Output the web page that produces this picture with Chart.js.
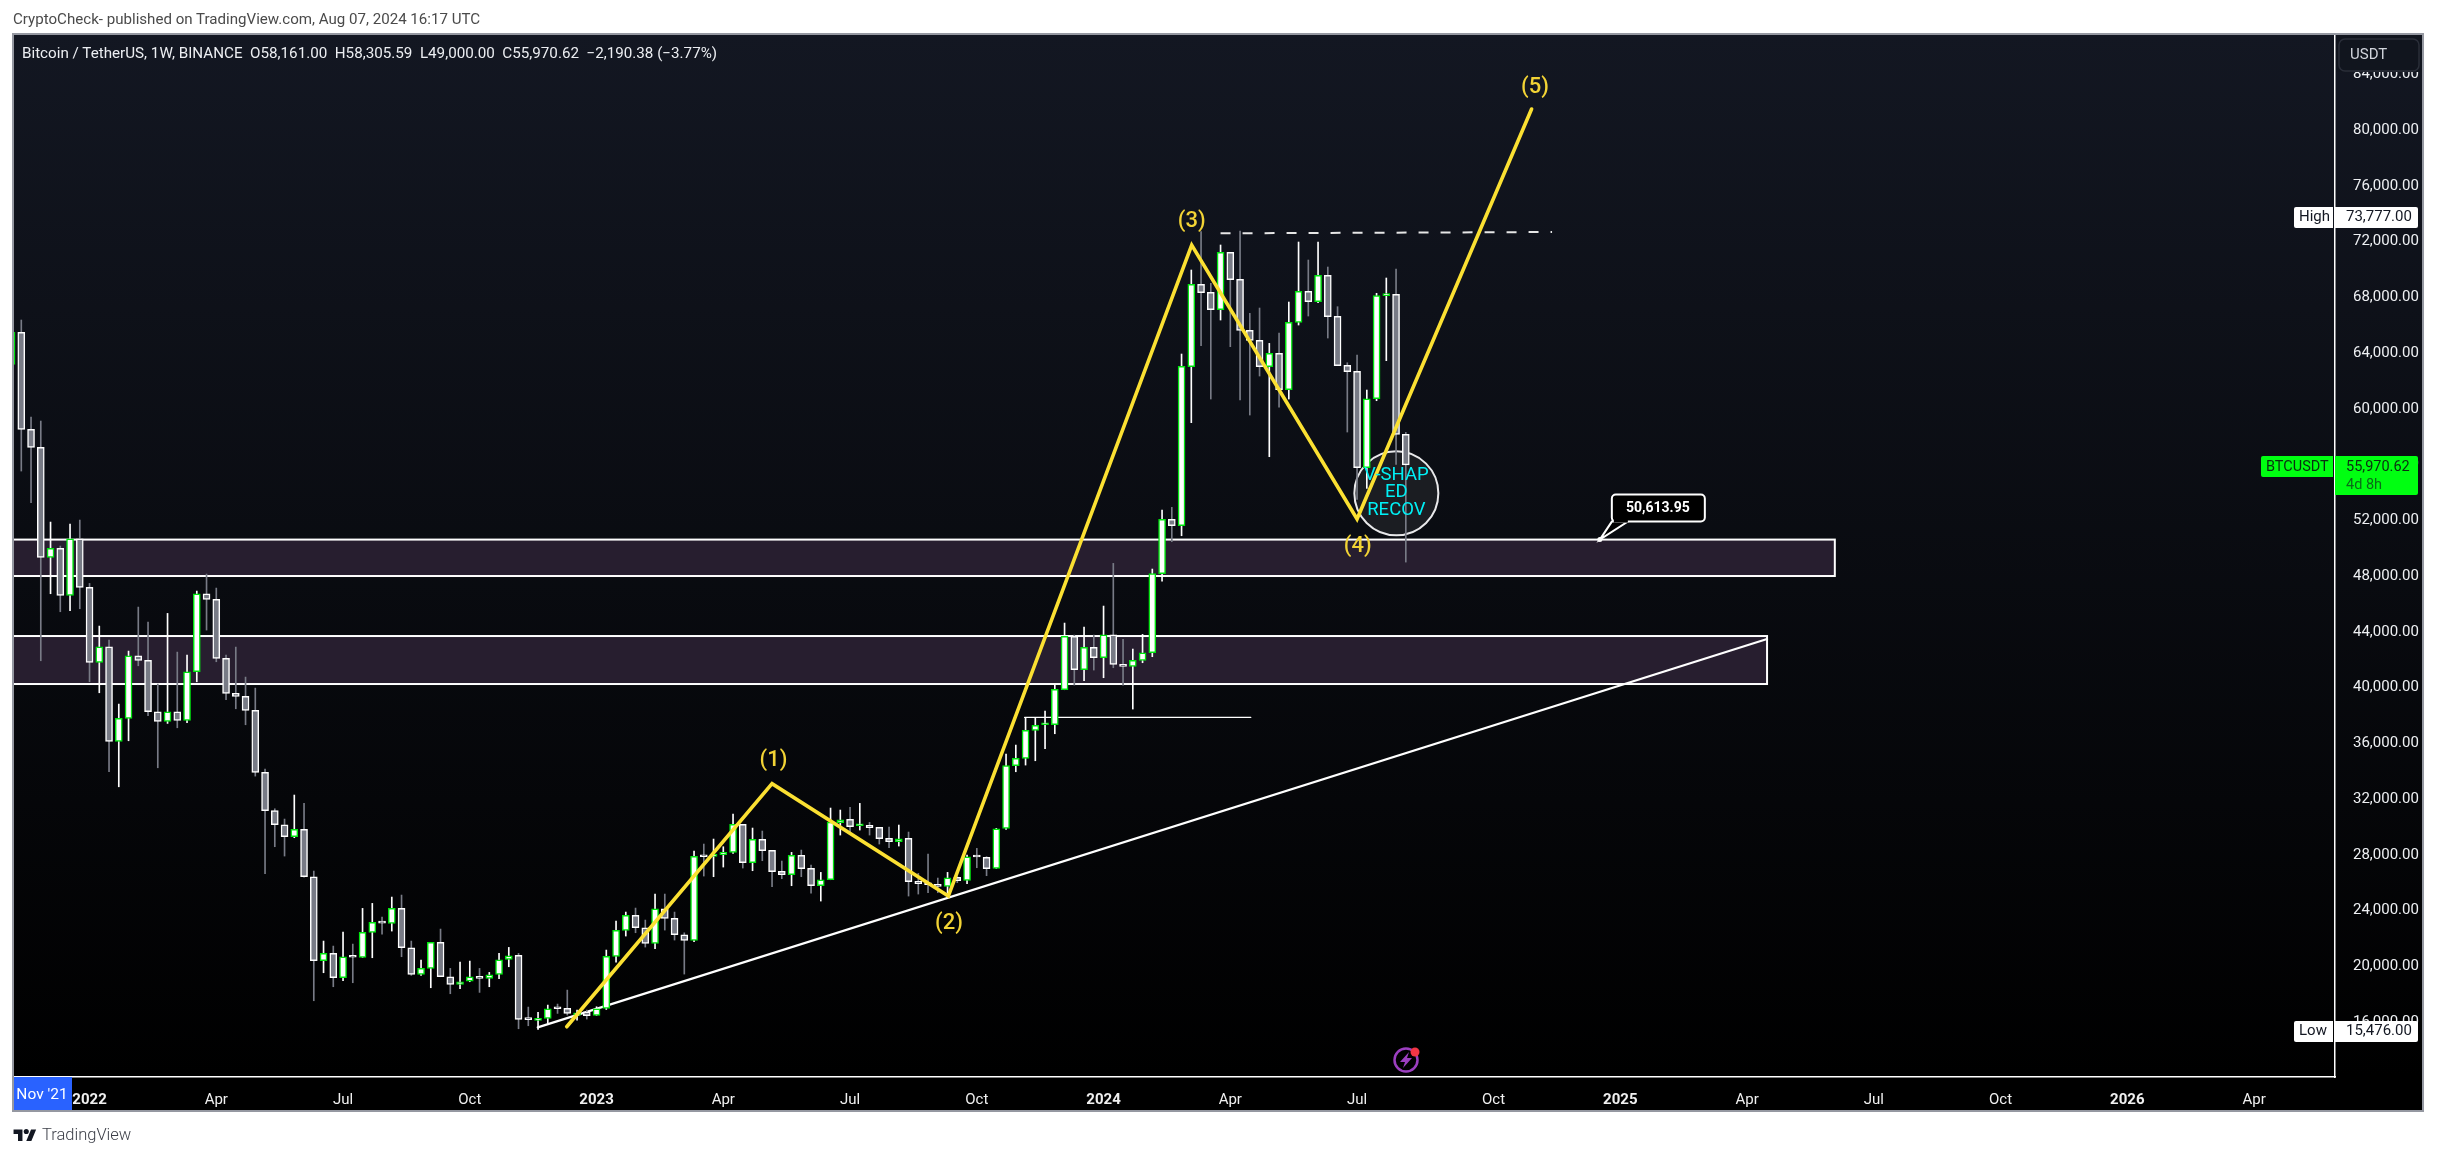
<!DOCTYPE html>
<html>
<head>
<meta charset="utf-8">
<title>BTCUSDT</title>
<script src="https://cdn.jsdelivr.net/npm/chart.js@4"></script>
<style>
  html, body { margin: 0; padding: 0; background: #fff; overflow: hidden; }
  #myChart { position: absolute; left: 0; top: 0; }
  .head { position: absolute; left: 13px; top: 10px; font: 15.1px Roboto, sans-serif; color: #4a4a4a; white-space: nowrap; }
  .legend { position: absolute; left: 22px; top: 44px; font: 15.2px Roboto, sans-serif; color: #eceef2; white-space: pre; }
  .logo { position: absolute; left: 13px; top: 1127px; width: 24px; height: 14px; }
  .brand { position: absolute; left: 42px; top: 1125px; font: 300 16.5px Roboto, sans-serif; color: #3c3f48; }
</style>
</head>
<body>
<canvas id="myChart" width="2437" height="1156"></canvas>
<div class="head">CryptoCheck- published on TradingView.com, Aug 07, 2024 16:17 UTC</div>
<div class="legend">Bitcoin / TetherUS, 1W, BINANCE  O58,161.00  H58,305.59  L49,000.00  C55,970.62  −2,190.38 (−3.77%)</div>
<svg class="logo" viewBox="0 0 36 22"><path fill="#131722" d="M14 22H7V11H0V4h14v18zM28 22h-8l7.5-18h8L28 22z"/><circle fill="#131722" cx="20" cy="7" r="4"/></svg>
<div class="brand">TradingView</div>
<script>
// weekly candles, week 0 = 8 Nov 2021
let opens = [63185,65482,58521,57229,49336,49981,46609,50675,47183,41800,42925,36132,37782,42279,41944,38261,37566,38261,37638,41131,46728,46322,42088,39576,39361,38356,33907,31162,30157,29296,29822,26425,20398,20924,19178,20685,20637,22431,23148,23077,24153,21330,19417,19847,21713,19250,18700,18938,19250,19130,19417,20493,20780,16187,16116,16260,16977,16977,16499,16738,16475,16977,20708,22574,23650,22766,21642,24129,23436,22263,21857,27885,27885,28004,28172,30181,27430,29105,28315,26808,26569,27956,27023,25780,26210,30300,30540,30085,30109,29966,29176,28937,29176,26091,25947,25875,25732,26378,26162,27861,27813,27023,29894,34388,34914,36923,37330,37330,39841,43669,41277,42879,42138,43788,41659,41516,41947,42497,48166,52065,51608,63018,68926,68352,67108,71223,69285,65625,64908,63018,63975,61367,66199,68424,67682,69572,66630,63114,62683,55770,60721,68113,68209,58161];
let highs = [69000,66367,59406,59119,51871,50149,51728,52015,47470,44408,43403,38811,42614,45772,44695,40246,45317,42542,42327,46919,48140,47135,42327,42901,40749,39958,34147,31300,30563,32286,31688,26832,21809,21450,22454,21593,24153,24512,23531,24966,25110,21809,20445,21713,22670,19848,20302,20373,19848,19560,20924,21354,20924,17073,16690,17216,17288,18292,16858,16858,17096,21163,23244,23890,24177,23316,25182,25182,23890,22400,28267,28770,29128,28578,30922,30181,29918,29703,28291,27550,28172,28339,27262,26736,31353,31210,31401,31688,30324,29966,29990,30133,29631,26665,28052,26330,26737,26426,27980,28459,27862,29894,35225,35871,37856,37856,38311,40176,44625,43764,44338,43764,45845,48907,43453,42760,43812,48500,52734,52926,63927,69955,72706,68998,71749,71223,72753,66845,67228,64692,65434,67658,71964,70672,71964,70170,67324,63300,63855,61343,68281,69381,70026,58305.59];
let lows = [62278,55531,53259,41920,46728,45437,45509,45652,40413,39624,33955,32878,36180,41561,37973,34242,37423,37113,37471,40413,44121,41849,39122,38476,37328,33643,26641,28578,27908,29224,26400,17527,19536,18532,18962,18819,20637,20613,22311,22526,20685,19350,19350,18460,19250,18030,18388,18891,18125,18532,19106,19967,15518,15733,15476,15900,16618,16498,16139,16212,16475,16900,20302,22168,22407,21378,21258,22598,21881,19441,21761,26473,26426,27119,28100,27048,26856,27574,25708,26282,25780,26426,25253,24679,26210,29415,29655,29774,29415,28770,28507,28626,25038,25182,25277,25277,25230,26000,25923,27071,26498,27023,29822,33957,34436,34746,35607,36684,39841,40176,40487,41253,40703,41420,40176,38454,41779,42210,47639,50462,50890,59000,64525,60698,66367,64453,60626,59550,62348,56560,60123,60698,66008,66654,67611,65075,63090,58330,53500,54287,60578,63449,56000,49000];
let closes = [65482,58521,57229,49336,49981,46609,50675,47183,41800,42925,36132,37782,42279,41944,38261,37566,38261,37638,41131,46728,46322,42088,39576,39361,38356,33907,31162,30157,29296,29822,26425,20398,20924,19178,20685,20650,22431,23148,23100,24153,21330,19417,19847,21713,19250,18700,18891,19250,19130,19393,20470,20756,16187,16170,16260,16953,16950,16618,16666,16451,16953,20708,22574,23650,22766,21642,24129,23436,22263,21857,27885,27860,28028,28172,30181,27430,29105,28291,26784,26569,27956,26999,25780,26210,30348,30516,30014,30109,29942,29152,28937,29152,26067,25923,25851,25732,26354,26138,27861,27840,27000,29870,34391,34914,36923,37282,37375,39865,43669,41277,42879,42138,43788,41659,41516,41947,42497,48166,52065,51610,63041,68926,68328,67108,71223,69261,65625,64908,63018,63975,61367,66199,68424,67682,69572,66606,63090,62659,55770,60721,68113,68161,58161,55970.62];

// tick labels
let priceTicks = [84000,80000,76000,72000,68000,64000,60000,56000,52000,48000,44000,40000,36000,32000,28000,24000,20000,16000];
let timeTicks = [8,21,34,47,60,73,86,99,112,125,138,152,165,178,191,204,217,230];
let timeLabels = ['2022','Apr','Jul','Oct','2023','Apr','Jul','Oct','2024','Apr','Jul','Oct','2025','Apr','Jul','Oct','2026','Apr'];

// drawings, [week, price]
let waveLine = [[56.94,15662],[78.0,33099],[96.08,25038],[121.04,71749],[138.0,52087],[155.9,81507]];
let waveNames = ['(1)','(2)','(3)','(4)','(5)'];
let waveLabels = [[78.14,34760],[96.15,23100],[121.04,73400],[138.07,50150],[156.25,83045]];
let trendLine = [[53.97,15613],[180.05,43479]];
let highDash = [[124.0,72588],[158.0,72680]];
let supportLine = [[103.9,37856],[127.1,37856]];
let zoneTops = [50614,43694];
let zoneBottoms = [48000,40251];
let zoneEnds = [187.0,180.05];
let circleSpot = [142.03,53933];
let circleText = ['V-SHAP','ED','RECOV'];
let calloutSpot = [162.9,50613.95];
let highPrice = 73777, lowPrice = 15476, lastPrice = 55970.62;

let weeks = opens.map((o, i) => i);
let fmt = v => v.toLocaleString('en-US', {minimumFractionDigits: 2, maximumFractionDigits: 2});
let toPoints = arr => arr.map(p => ({x: p[0], y: p[1]}));
let isUp = ctx => { let r = ctx.raw; return r && closes[r.x] >= opens[r.x]; };
let noPadding = s => { s.paddingLeft = s.paddingRight = s.paddingTop = s.paddingBottom = 0; };
const UI = 'Roboto, sans-serif';

function roundBox(ctx, x, y, w, h, r, fill, stroke) {
  ctx.beginPath();
  ctx.roundRect(x, y, w, h, r);
  if (fill) { ctx.fillStyle = fill; ctx.fill(); }
  if (stroke) { ctx.strokeStyle = stroke; ctx.stroke(); }
}

function priceTag(chart, name, price, y0, h, bg, fg) {
  let c = chart.ctx;
  roundBox(c, 2294, y0, 39, h, [2, 0, 0, 2], bg);
  roundBox(c, 2335, y0, 83, h, [0, 2, 2, 0], bg);
  c.fillStyle = fg; c.font = '15px ' + UI; c.textBaseline = 'middle'; c.textAlign = 'left';
  c.fillText(name, 2299, y0 + h / 2);
  c.fillText(fmt(price), 2346, y0 + h / 2);
}

// background and the purple zones sit under the candles
let underPlugin = {
  id: 'under',
  beforeDraw(chart) {
    let c = chart.ctx, g = c.createLinearGradient(0, 34, 0, 1077);
    g.addColorStop(0, '#131722');
    g.addColorStop(1, '#000000');
    c.fillStyle = g;
    c.fillRect(13, 34, 2410, 1077);
  },
  beforeDatasetsDraw(chart) {
    let c = chart.ctx, a = chart.chartArea, x = chart.scales.x, y = chart.scales.y;
    c.save();
    c.beginPath(); c.rect(a.left, a.top, a.width, a.height); c.clip();
    zoneTops.forEach((top, i) => {
      let y1 = y.getPixelForValue(top), y2 = y.getPixelForValue(zoneBottoms[i]), x2 = x.getPixelForValue(zoneEnds[i]);
      c.fillStyle = '#271e2f';
      c.fillRect(a.left - 6, y1, x2 - a.left + 6, y2 - y1);
      c.lineWidth = 2; c.strokeStyle = '#ffffff';
      c.strokeRect(a.left - 6, y1, x2 - a.left + 6, y2 - y1);
    });
    c.restore();
  },
  afterDraw(chart) {
    let c = chart.ctx, x = chart.scales.x, y = chart.scales.y;
    c.save();
    // wave numbers
    c.font = '500 22px ' + UI; c.textAlign = 'center'; c.textBaseline = 'middle'; c.fillStyle = '#f2d335';
    waveLabels.forEach((p, i) => c.fillText(waveNames[i], x.getPixelForValue(p[0]), y.getPixelForValue(p[1])));
    // text in the circle
    let cx = x.getPixelForValue(circleSpot[0]), cy = y.getPixelForValue(circleSpot[1]);
    c.font = '18.5px ' + UI; c.fillStyle = '#00f0f5';
    circleText.forEach((t, i) => c.fillText(t, cx, cy - 18 + i * 17.5));
    // price callout
    let ax = x.getPixelForValue(calloutSpot[0]), ay = y.getPixelForValue(calloutSpot[1]);
    c.lineWidth = 2; c.strokeStyle = '#fff'; c.fillStyle = '#000';
    c.beginPath();
    c.moveTo(ax, ay); c.lineTo(ax + 12, ay - 18); c.lineTo(ax + 28, ay - 18); c.closePath();
    c.fill(); c.stroke();
    roundBox(c, ax + 12, ay - 45, 93, 27, 4, '#000', '#fff');
    c.beginPath(); c.arc(ax, ay, 2.5, 0, Math.PI * 2); c.fillStyle = '#fff'; c.fill();
    c.fillStyle = '#000'; c.fillRect(ax + 14, ay - 20, 14, 3);
    c.font = 'bold 14px ' + UI; c.fillStyle = '#fff';
    c.fillText(fmt(calloutSpot[1]), ax + 58, ay - 31);
    // USDT button covers the top tick
    c.fillStyle = '#11151e'; c.fillRect(2336, 35, 86, 37);
    c.lineWidth = 1.5;
    roundBox(c, 2339, 39, 80, 32, 6, null, '#2a2e39');
    c.font = '15px ' + UI; c.textAlign = 'left'; c.fillStyle = '#d1d4dc';
    c.fillText('USDT', 2350, 55);
    // price tags
    priceTag(chart, 'High', highPrice, Math.round(y.getPixelForValue(highPrice)) - 10, 21, '#ffffff', '#131722');
    priceTag(chart, 'Low', lowPrice, Math.round(y.getPixelForValue(lowPrice)) - 8, 21, '#ffffff', '#131722');
    let ly = Math.round(y.getPixelForValue(lastPrice)) - 9;
    roundBox(c, 2261, ly, 72, 21, [2, 0, 0, 2], '#00ff11');
    roundBox(c, 2335, ly, 83, 39, [0, 2, 2, 0], '#00ff11');
    c.fillStyle = '#0b2e12'; c.font = '14.5px ' + UI;
    c.fillText('BTCUSDT', 2266, ly + 11);
    c.fillText(fmt(lastPrice), 2346, ly + 11);
    c.fillStyle = '#0a6b18';
    c.fillText('4d 8h', 2346, ly + 29);
    // first-bar tag on the time axis
    c.fillStyle = '#2962ff'; c.fillRect(13, 1077, 59, 34);
    c.fillStyle = '#ffffff'; c.textAlign = 'center';
    c.font = '15.5px ' + UI;
    c.fillText("Nov '21", 42, 1095);
    // lightning mark
    c.lineWidth = 2.5; c.strokeStyle = '#9c3fc0';
    c.beginPath(); c.arc(1406, 1060, 11.5, 0, Math.PI * 2); c.stroke();
    c.fillStyle = '#9c3fc0';
    c.beginPath();
    c.moveTo(1409, 1052); c.lineTo(1400, 1062); c.lineTo(1405, 1062); c.lineTo(1403, 1068);
    c.lineTo(1412, 1058); c.lineTo(1407, 1058); c.closePath(); c.fill();
    c.fillStyle = '#f23645';
    c.beginPath(); c.arc(1415, 1052, 4.5, 0, Math.PI * 2); c.fill();
    // outer frame
    c.lineWidth = 2; c.strokeStyle = '#9598a1';
    c.strokeRect(13, 34, 2410, 1077);
    c.restore();
  }
};

let lineDefaults = {type: 'line', pointRadius: 0, fill: false, tension: 0, borderCapStyle: 'round', borderJoinStyle: 'miter'};
let isYear = v => /^20/.test(timeLabels[timeTicks.indexOf(v)]);

let myChart = new Chart(document.getElementById('myChart').getContext('2d'), {
  type: 'bar',
  data: {
    datasets: [
      Object.assign({}, lineDefaults, {data: toPoints(trendLine), borderColor: '#ffffff', borderWidth: 2.2, order: 7}),
      Object.assign({}, lineDefaults, {data: toPoints(supportLine), borderColor: '#ffffff', borderWidth: 1.2, order: 7}),
      {type: 'bubble', data: [{x: circleSpot[0], y: circleSpot[1], r: 42}], backgroundColor: '#1b1d22', borderColor: '#e8e8ea', borderWidth: 2, order: 6},
      {
        data: weeks.map(i => ({x: i, y: [lows[i], highs[i]]})),
        barThickness: 1,
        backgroundColor: ctx => isUp(ctx) ? '#ffffff' : '#787b86',
        order: 5
      },
      {
        data: weeks.map(i => ({x: i, y: [opens[i], closes[i]]})),
        barThickness: 7,
        minBarLength: 2,
        borderWidth: 1.5,
        borderSkipped: false,
        backgroundColor: ctx => isUp(ctx) ? '#ffffff' : '#787b86',
        borderColor: ctx => isUp(ctx) ? '#00e60e' : '#ffffff',
        order: 4
      },
      Object.assign({}, lineDefaults, {data: toPoints(highDash), borderColor: '#e6e6e6', borderWidth: 2, borderDash: [10, 12], borderCapStyle: 'butt', order: 2}),
      Object.assign({}, lineDefaults, {data: toPoints(waveLine), borderColor: '#fbe032', borderWidth: 3.6, order: 1})
    ]
  },
  options: {
    responsive: false,
    devicePixelRatio: 1,
    animation: false,
    events: [],
    grouped: false,
    // bubble radius would otherwise push the plot area in
    layout: {autoPadding: false, padding: {left: 13, right: 14, top: 34, bottom: 45}},
    plugins: {legend: {display: false}, tooltip: {enabled: false}},
    scales: {
      x: {
        type: 'linear',
        min: 0.15,
        max: 238.3,
        offset: false,
        grid: {display: false},
        border: {color: '#ffffff', width: 1.5},
        afterFit: s => { s.height = 34; noPadding(s); },
        afterBuildTicks: s => { s.ticks = timeTicks.map(v => ({value: v})); },
        ticks: {
          autoSkip: false,
          maxRotation: 0,
          padding: 6,
          color: '#f0f0f0',
          font: ctx => ({family: UI, size: 15, weight: ctx.tick && isYear(ctx.tick.value) ? 'bold' : 'normal'}),
          callback: v => timeLabels[timeTicks.indexOf(v)]
        }
      },
      y: {
        type: 'linear',
        position: 'right',
        min: 12056,
        max: 86888,
        grid: {display: false},
        border: {color: '#ffffff', width: 1.5},
        afterFit: s => { s.width = 88; noPadding(s); },
        afterBuildTicks: s => { s.ticks = priceTicks.map(v => ({value: v})); },
        ticks: {
          autoSkip: false,
          padding: 10,
          color: '#eef0f3',
          font: {family: UI, size: 15},
          callback: v => fmt(v)
        }
      }
    }
  },
  plugins: [underPlugin]
});
</script>
</body>
</html>
